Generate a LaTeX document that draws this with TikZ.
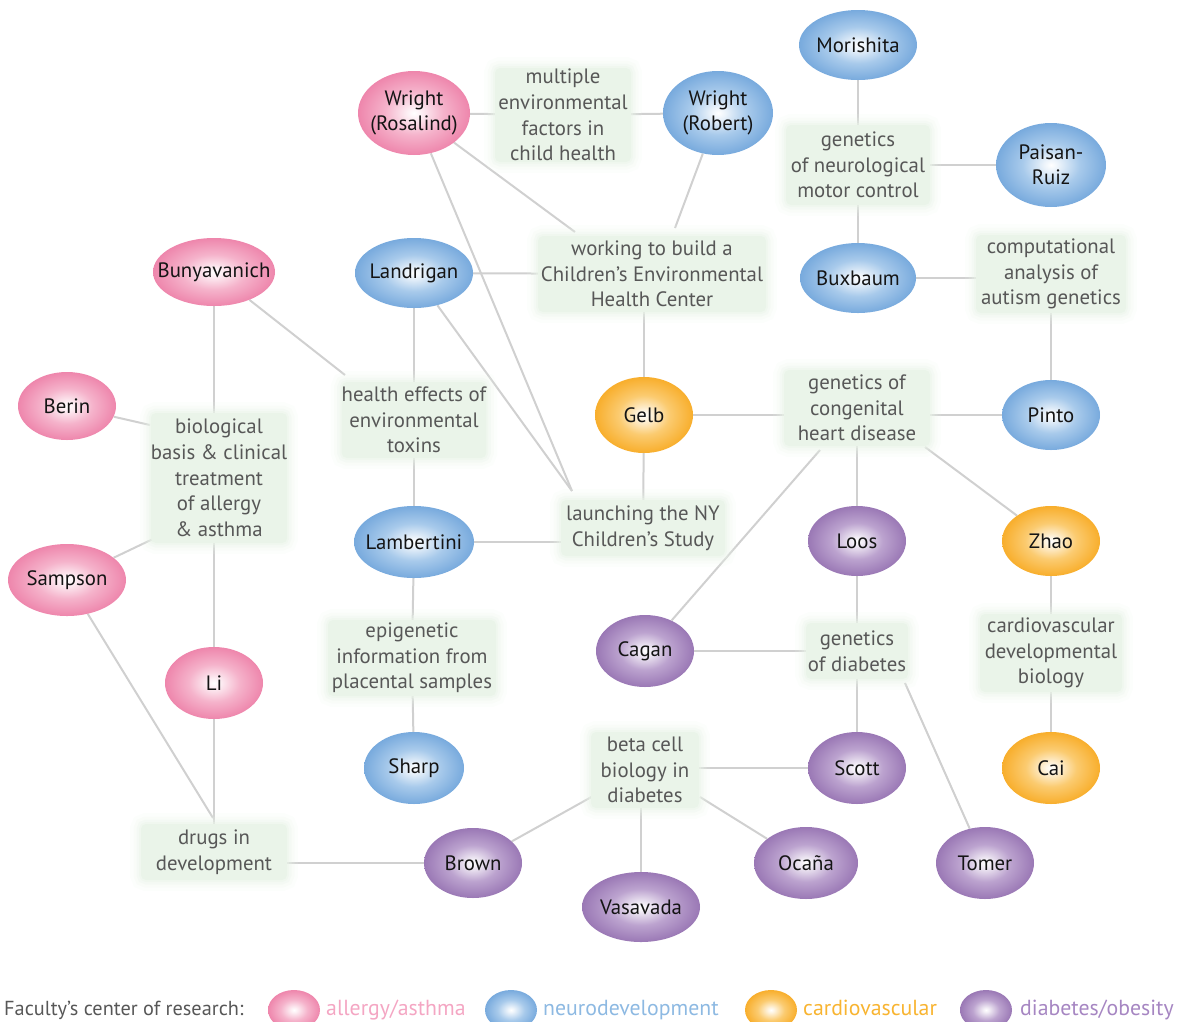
\documentclass[tikz,border=0pt]{standalone}
\usepackage{fontspec}
\setmainfont{PT Sans}
\usetikzlibrary{shapes.geometric,backgrounds}
\definecolor{pinkO}{HTML}{EE86AC}
\definecolor{pinkM}{HTML}{F5B3CB}
\definecolor{blueO}{HTML}{78AADD}
\definecolor{blueM}{HTML}{A8CAEB}
\definecolor{orangeO}{HTML}{F8AE2C}
\definecolor{orangeM}{HTML}{FBCB70}
\definecolor{purpleO}{HTML}{9A78B5}
\definecolor{purpleM}{HTML}{BCA3CF}
\definecolor{topicbg}{HTML}{EAF4E9}
\definecolor{topictext}{HTML}{575757}
\definecolor{edgegray}{HTML}{D0D0D0}
\definecolor{legpink}{HTML}{F4A6C3}
\definecolor{legblue}{HTML}{8DB9E2}
\definecolor{legorange}{HTML}{F8B431}
\definecolor{legpurple}{HTML}{A686C2}
\pgfdeclareradialshading{ballpink}{\pgfpointorigin}{color(0bp)=(white); color(3bp)=(white!80!pinkM); color(13bp)=(pinkM); color(25bp)=(pinkO); color(50bp)=(pinkO)}
\pgfdeclareradialshading{ballblue}{\pgfpointorigin}{color(0bp)=(white); color(3bp)=(white!80!blueM); color(13bp)=(blueM); color(25bp)=(blueO); color(50bp)=(blueO)}
\pgfdeclareradialshading{ballorange}{\pgfpointorigin}{color(0bp)=(white); color(3bp)=(white!80!orangeM); color(13bp)=(orangeM); color(25bp)=(orangeO); color(50bp)=(orangeO)}
\pgfdeclareradialshading{ballpurple}{\pgfpointorigin}{color(0bp)=(white); color(3bp)=(white!80!purpleM); color(13bp)=(purpleM); color(25bp)=(purpleO); color(50bp)=(purpleO)}
\tikzset{
  person/.style={ellipse, shade, inner sep=0pt},
  nametext/.style={align=center, text=black!92, font=\fontsize{20.8}{24.5}\selectfont, inner sep=0pt},
  topic/.style={rectangle, fill=topicbg, rounded corners=5pt, align=center, text=topictext,
    font=\fontsize{20.8}{25.7}\selectfont, inner sep=0pt,
    preaction={draw=topicbg, line width=22pt, opacity=0.12},
    preaction={draw=topicbg, line width=15pt, opacity=0.2},
    preaction={draw=topicbg, line width=9pt, opacity=0.3},
    preaction={draw=topicbg, line width=4pt, opacity=0.45}},
  edge/.style={draw=edgegray, line width=2pt},
  legtext/.style={anchor=base west, font=\fontsize{21.8}{24}\selectfont, inner sep=0pt}
}
\newcommand\pers[6]{%
  \node[person, shading=#5, minimum width=#3pt, minimum height=#4pt] (#1) at #2 {};
  \node[nametext] (#1-t) at (#1) {#6};}
\newcommand\topic[5]{%
  \node[topic, minimum width=#3pt, minimum height=#4pt] (#1) at #2 {#5};}
\begin{document}
\begin{tikzpicture}[x=1pt,y=-1pt]
\useasboundingbox (0,0) rectangle (1183,1021);
% people
\pers{mor}{(858,45)}{118}{70}{ballblue}{Morishita}
\pers{wr}{(414,113)}{112}{84}{ballpink}{Wright\\(Rosalind)}
\pers{wb}{(718,113)}{110}{84}{ballblue}{Wright\\(Robert)}
\pers{pai}{(1051,165)}{110}{84}{ballblue}{Paisan-\\Ruiz}
\pers{bux}{(858,278)}{116}{70}{ballblue}{Buxbaum}
\pers{bun}{(214,272)}{122}{68}{ballpink}{Bunyavanich}
\pers{lan}{(414,273)}{118}{70}{ballblue}{Landrigan}
\pers{ber}{(67,406)}{98}{68}{ballpink}{Berin}
\pers{gelb}{(644,415)}{98}{76}{ballorange}{Gelb}
\pers{pin}{(1051,415)}{98}{70}{ballblue}{Pinto}
\pers{sam}{(67,580)}{118}{72}{ballpink}{Sampson}
\pers{lam}{(414,542)}{120}{72}{ballblue}{Lambertini}
\pers{loo}{(857,541)}{98}{70}{ballpurple}{Loos}
\pers{zha}{(1051,541)}{98}{70}{ballorange}{Zhao}
\pers{cag}{(645,651)}{98}{72}{ballpurple}{Cagan}
\pers{li}{(214,683)}{98}{72}{ballpink}{Li}
\pers{sha}{(414,768)}{100}{72}{ballblue}{Sharp}
\pers{sco}{(857,768)}{98}{72}{ballpurple}{Scott}
\pers{cai}{(1051,768)}{98}{72}{ballorange}{Cai}
\pers{bro}{(473,863)}{98}{70}{ballpurple}{Brown}
\pers{oca}{(806,863)}{104}{72}{ballpurple}{Ocaña}
\pers{tom}{(985,863)}{98}{72}{ballpurple}{Tomer}
\pers{vas}{(641,907)}{118}{70}{ballpurple}{Vasavada}
% topics
\topic{mul}{(563,115)}{136}{94}{multiple\\environmental\\factors in\\child health}
\topic{gnm}{(858,165)}{144}{80}{genetics\\of neurological\\motor control}
\topic{work}{(652,274)}{228}{76}{working to build a\\Children’s Environmental\\Health Center}
\topic{comp}{(1051,274)}{150}{78}{computational\\analysis of\\autism genetics}
\topic{hea}{(414,420)}{144}{76}{health effects of\\environmental\\toxins}
\topic{bio}{(219,478)}{134}{130}{biological\\basis \& clinical\\treatment\\of allergy\\\& asthma}
\topic{ghd}{(857,408)}{146}{76}{genetics of\\congenital\\heart disease}
\topic{nyc}{(643,528)}{164}{56}{launching the NY\\Children’s Study}
\topic{epi}{(412,658)}{168}{76}{epigenetic\\information from\\placental samples}
\topic{gdi}{(857,651)}{102}{56}{genetics\\of diabetes}
\topic{cdb}{(1051,653)}{142}{78}{cardiovascular\\developmental\\biology}
\topic{beta}{(645,770)}{108}{76}{beta cell\\biology in\\diabetes}
\topic{drug}{(214,852)}{146}{56}{drugs in\\development}
% free ends of slanted connectors
\coordinate (wrA) at (575,232);
\coordinate (wbA) at (675,228);
\coordinate (nyA) at (572,491);
\coordinate (bunA) at (345,375);
\coordinate (berA) at (150,425);
\coordinate (samA) at (155,538);
\coordinate (samB) at (213,818);
\coordinate (ghdA) at (820,450);
\coordinate (ghdB) at (925,447);
\coordinate (gdiA) at (905,683);
\coordinate (betA) at (595,795);
\coordinate (betB) at (700,797);
\begin{pgfonlayer}{background}
\draw[edge] (wr) -- (mul) -- (wb);
\draw[edge] (mor) -- (gnm) -- (bux);
\draw[edge] (gnm) -- (pai);
\draw[edge] (bux) -- (bux -| comp.west);
\draw[edge] (comp) -- (pin);
\draw[edge] (wr) -- (wrA);
\draw[edge] (wb) -- (wbA);
\draw[edge] (lan) -- (work);
\draw[edge] (gelb) -- (gelb |- work.south);
\draw[edge] (wr) -- (nyA);
\draw[edge] (lan) -- (nyA);
\draw[edge] (bun) -- (bunA);
\draw[edge] (lan) -- (hea) -- (lam);
\draw[edge] (lam) -- (lam -| nyc.west);
\draw[edge] (gelb) -- (nyc);
\draw[edge] (gelb) -- (gelb -| ghd.west);
\draw[edge] (pin) -- (pin -| ghd.east);
\draw[edge] (zha) -- (ghdB);
\draw[edge] (ghd) -- (loo);
\draw[edge] (cag) -- (ghdA);
\draw[edge] (bun) -- (bun |- bio.north);
\draw[edge] (ber) -- (berA);
\draw[edge] (sam) -- (samA);
\draw[edge] (li) -- (li |- bio.south);
\draw[edge] (li) -- (drug);
\draw[edge] (sam) -- (samB);
\draw[edge] (lam) -- (epi) -- (sha);
\draw[edge] (loo) -- (gdi) -- (sco);
\draw[edge] (cag) -- (gdi);
\draw[edge] (tom) -- (gdiA);
\draw[edge] (zha) -- (cdb) -- (cai);
\draw[edge] (sco) -- (sco -| beta.east);
\draw[edge] (bro) -- (betA);
\draw[edge] (oca) -- (betB);
\draw[edge] (vas) -- (vas |- beta.south);
\draw[edge] (bro) -- (bro -| drug.east);
\end{pgfonlayer}
% legend
\node[legtext, text=topictext, font=\fontsize{20.3}{24}\selectfont] (legt) at (4,1015) {Faculty’s center of research:};
\node[person, shading=ballpink, minimum width=52pt, minimum height=40pt] (lgp) at (294,1010) {};
\node[legtext, text=legpink] (lgpt) at (326,1015) {allergy/asthma};
\node[person, shading=ballblue, minimum width=52pt, minimum height=40pt] (lgb) at (511,1010) {};
\node[legtext, text=legblue] (lgbt) at (543,1015) {neurodevelopment};
\node[person, shading=ballorange, minimum width=52pt, minimum height=40pt] (lgo) at (771,1010) {};
\node[legtext, text=legorange] (lgot) at (803,1015) {cardiovascular};
\node[person, shading=ballpurple, minimum width=52pt, minimum height=40pt] (lgu) at (986,1010) {};
\node[legtext, text=legpurple] (lgut) at (1020,1015) {diabetes/obesity};
\end{tikzpicture}
\end{document}
